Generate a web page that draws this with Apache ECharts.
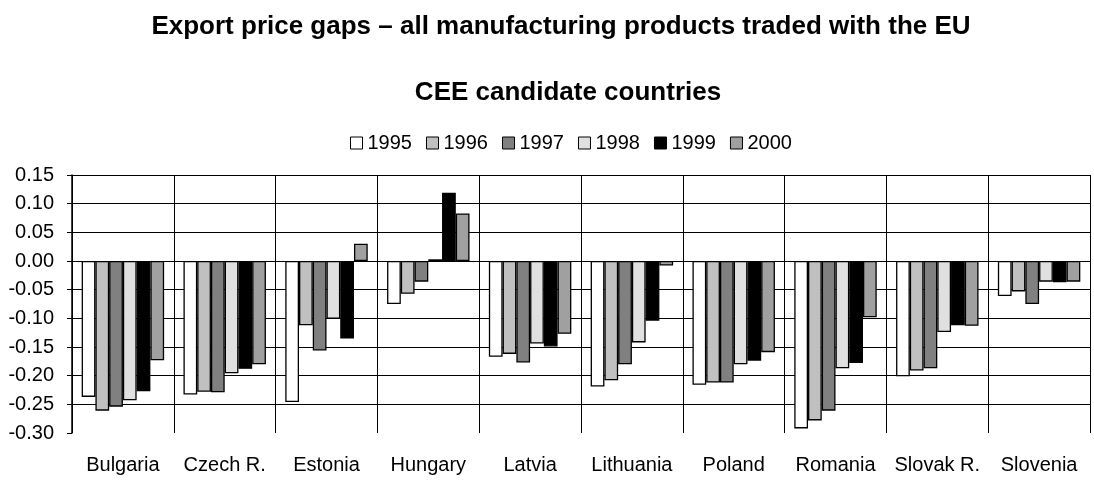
<!DOCTYPE html>
<html>
<head>
<meta charset="utf-8">
<script src="https://cdn.jsdelivr.net/npm/echarts@6/dist/echarts.min.js"></script>
<style>html,body{margin:0;padding:0;background:#fff}#c{width:1094px;height:481px}</style>
</head>
<body>
<div id="c"></div>
<script>
const categories = ['Bulgaria','Czech R.','Estonia','Hungary','Latvia','Lithuania','Poland','Romania','Slovak R.','Slovenia'];
const years = ['1995','1996','1997','1998','1999','2000'];
const v1995 = [-0.237,-0.233,-0.246,-0.075,-0.167,-0.219,-0.216,-0.292,-0.201,-0.061];
const v1996 = [-0.261,-0.228,-0.112,-0.057,-0.162,-0.208,-0.212,-0.278,-0.191,-0.053];
const v1997 = [-0.254,-0.229,-0.156,-0.036,-0.177,-0.180,-0.212,-0.261,-0.187,-0.075];
const v1998 = [-0.243,-0.196,-0.101,0.003,-0.144,-0.142,-0.180,-0.187,-0.124,-0.036];
const v1999 = [-0.227,-0.188,-0.135,0.119,-0.149,-0.104,-0.174,-0.178,-0.112,-0.037];
const v2000 = [-0.173,-0.180,0.030,0.083,-0.127,-0.008,-0.159,-0.098,-0.113,-0.036];
const yTicks = ['0.15','0.10','0.05','0.00','-0.05','-0.10','-0.15','-0.20','-0.25','-0.30'];
const colors = ['#ffffff','#c0c0c0','#808080','#e0e0e0','#000000','#a0a0a0'];
const values = [v1995,v1996,v1997,v1998,v1999,v2000];
const titleText = 'Export price gaps \u2013 all manufacturing products traded with the EU';
const subtitleText = 'CEE candidate countries';

const FONT = '"Liberation Sans", Arial, sans-serif';
const chart = echarts.init(document.getElementById('c'), null, {renderer:'canvas'});
chart.setOption({
  animation: false,
  backgroundColor: '#fff',
  textStyle: {fontFamily: FONT, color: '#000'},
  title: [
    {text: titleText, left: 556, top: 9, textAlign: 'center',
     textStyle: {fontFamily: FONT, fontSize: 26, fontWeight: 'bold', color: '#000'}},
    {text: subtitleText, left: 563, top: 75, textAlign: 'center',
     textStyle: {fontFamily: FONT, fontSize: 26, fontWeight: 'bold', color: '#000'}}
  ],
  legend: {
    left: 345, top: 128,
    orient: 'horizontal',
    icon: 'rect', itemWidth: 12, itemHeight: 12, itemGap: 14,
    textStyle: {fontFamily: FONT, fontSize: 20, color: '#000'},
    itemStyle: {borderColor: '#000', borderWidth: 1},
    data: years
  },
  grid: {left: 72, right: 4, top: 175, bottom: 48, containLabel: false},
  xAxis: [
    {type: 'category', data: categories, position: 'bottom',
     axisLine: {show: false, onZero: false}, axisTick: {show: false},
     axisLabel: {fontFamily: FONT, fontSize: 20, color: '#000', margin: 22, interval: 0},
     splitLine: {show: true, interval: 0, lineStyle: {color: '#000', width: 1}}},
    {type: 'category', data: categories, position: 'bottom',
     axisLine: {show: true, onZero: true, lineStyle: {color: '#000', width: 1}},
     axisTick: {show: true, length: 5, interval: 0, lineStyle: {color: '#000'}},
     axisLabel: {show: false}, splitLine: {show: false}}
  ],
  yAxis: {
    type: 'value', min: -0.3, max: 0.15, interval: 0.05,
    axisLine: {show: true, lineStyle: {color: '#000', width: 1.5}},
    axisTick: {show: true, length: 5, lineStyle: {color: '#000', width: 1}},
    axisLabel: {fontFamily: FONT, fontSize: 20, color: '#000', margin: 18,
      formatter: v => v.toFixed(2)},
    splitLine: {show: true, showMinLine: false, lineStyle: {color: '#000', width: 1}}
  },
  series: years.map((y, i) => ({
    name: y, type: 'bar', xAxisIndex: 0, data: values[i],
    barGap: '0%', barCategoryGap: '19%',
    itemStyle: {color: colors[i], borderColor: '#000', borderWidth: 1.3}
  }))
});
</script>
</body>
</html>
